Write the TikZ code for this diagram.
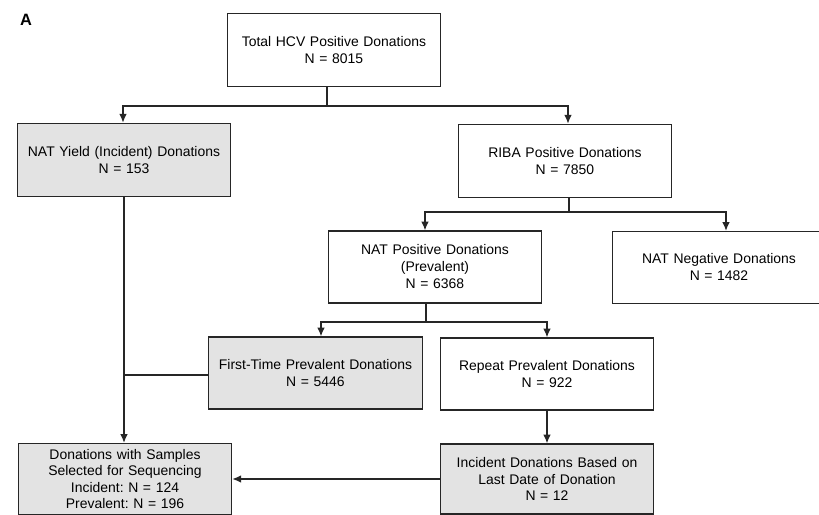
\documentclass[tikz,border=0pt]{standalone}
\usepackage{fontspec}
\setmainfont{Liberation Sans}
\usepackage{tikz}
\usetikzlibrary{positioning, arrows.meta}
\frenchspacing

\begin{document}
\begin{tikzpicture}[x=0.03cm, y=-0.03cm, font=\fontsize{11.9}{14.5}\selectfont]
		% Styles
		\tikzstyle{block} = [rectangle, draw=black!85, line width=1.1pt, fill=white,
		text width=6.4cm, align=center, minimum width=6.06cm, minimum height=2.2cm, inner sep=0pt]
		\tikzstyle{shadedblock} = [block, fill=gray!22]
		\tikzstyle{line} = [draw=black!85, line width=1.1pt, -{Latex[length=7.5pt, width=6.5pt]}, shorten >=0pt, shorten <=0pt]
		\tikzstyle{link} = [draw=black!85, line width=1.1pt]
		
		\useasboundingbox (0,0) rectangle (819,515);
		\node [font=\fontsize{14}{16}\selectfont\bfseries] (panel) at (26,20) {A};
		
		% Nodes
		\node [block] (total) at (334,50) {Total HCV Positive Donations\\N = 8015};
		\node [shadedblock] (yield) at (124,160) {NAT Yield (Incident) Donations\\N = 153};
		\node [block] (riba) at (565,161) {RIBA Positive Donations\\N = 7850};
		\node [block, minimum height=2.16cm] (natpos) at (435,267) {NAT Positive Donations\\(Prevalent)\\N = 6368};
		\node [block, minimum width=5.97cm, minimum height=2.16cm] (natneg) at (719,267.5) {NAT Negative Donations\\N = 1482};
		\node [shadedblock, minimum height=2.16cm] (first) at (315.5,373) {First-Time Prevalent Donations\\N = 5446};
		\node [block, minimum height=2.16cm] (repeat) at (547,374) {Repeat Prevalent Donations\\N = 922};
		\node [shadedblock, minimum height=2.13cm, font=\fontsize{11.9}{13.8}\selectfont] (final) at (125,479) {Donations with Samples\\Selected for Sequencing\\Incident: N = 124\\Prevalent: N = 196};
		\node [shadedblock, minimum height=2.1cm, font=\fontsize{11.9}{13.8}\selectfont] (incident) at (547,479) {Incident Donations Based on\\Last Date of Donation\\N = 12};
		
		% Junctions
		\coordinate (split1) at (327,106);
		\coordinate (split2) at (569,212);
		\coordinate (split3) at (426,322);
		
		% Connections
		\path [link] (split1 |- total.south) -- (split1);
		\path [line] (split1) -| ([xshift=-0.03cm]yield.north);
		\path [line] (split1) -| ([xshift=0.09cm]riba.north);
		\path [link] (split2 |- riba.south) -- (split2);
		\path [line] (split2) -| ([xshift=-0.3cm]natpos.north);
		\path [line] (split2) -| ([xshift=0.21cm]natneg.north);
		\path [link] (split3 |- natpos.south) -- (split3);
		\path [line] (split3) -| ([xshift=0.165cm]first.north);
		\path [line] (split3) -| (repeat.north);
		\path [line] (yield.south) -- (yield.south |- final.north);
		\path [link] ([yshift=-0.06cm]first.west) -- ([yshift=-0.06cm]first.west -| yield.south);
		\path [line] (repeat) -- (incident);
		\path [line] (incident) -- (final);
	\end{tikzpicture}
\end{document}
